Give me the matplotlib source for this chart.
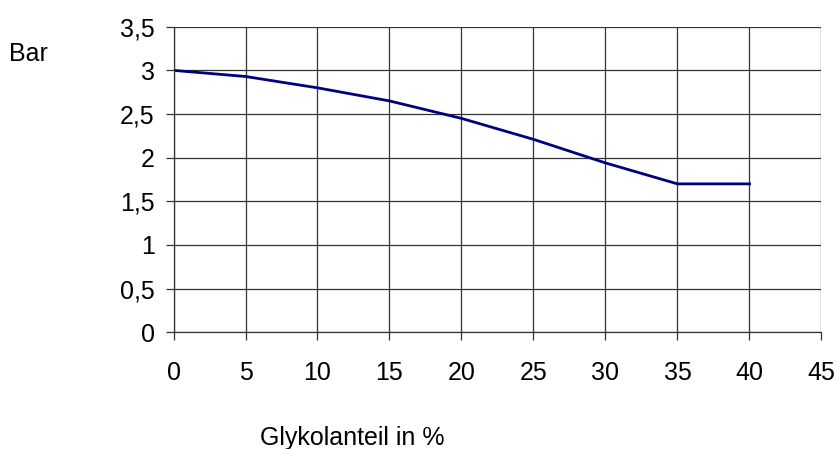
import matplotlib
matplotlib.use("Agg")
import matplotlib.pyplot as plt
from matplotlib.ticker import FuncFormatter

# Glykolanteil (%) und zugehöriger Druck (bar)
glykol = [0, 5, 10, 15, 20, 25, 30, 35, 40]
druck = [3.0, 2.93, 2.80, 2.65, 2.45, 2.21, 1.94, 1.70, 1.70]

x_ticks = [0, 5, 10, 15, 20, 25, 30, 35, 40, 45]
y_ticks = [0, 0.5, 1, 1.5, 2, 2.5, 3, 3.5]

plt.rcParams["font.family"] = ["Liberation Sans", "DejaVu Sans"]

fig = plt.figure(figsize=(8.39, 4.49), dpi=100)
ax = fig.add_axes([0.2068, 0.2599, 0.7723, 0.6806])

ax.plot(glykol, druck, color="#000080", linewidth=2.0)

ax.set_xlim(0, 45)
ax.set_ylim(0, 3.5)
ax.set_xticks(x_ticks)
ax.set_yticks(y_ticks)
# Dezimalkomma
ax.yaxis.set_major_formatter(FuncFormatter(lambda v, p: f"{v:g}".replace(".", ",")))

ax.grid(True, color="#333333", linewidth=0.9)
ax.set_axisbelow(True)
for side in ("top", "right"):
    ax.spines[side].set_visible(False)
for side in ("left", "bottom"):
    ax.spines[side].set_color("#333333")
    ax.spines[side].set_linewidth(0.9)

ax.tick_params(axis="both", direction="out", length=5.5, width=0.9,
               color="#333333", labelsize=18)
ax.tick_params(axis="x", pad=15)
ax.tick_params(axis="y", pad=8)

fig.text(0.0113, 0.8648, "Bar", fontsize=18, va="baseline", ha="left")
fig.text(0.4201, 0.0089, "Glykolanteil in %", fontsize=18, va="baseline", ha="center")

fig.savefig("out.png", dpi=100)
